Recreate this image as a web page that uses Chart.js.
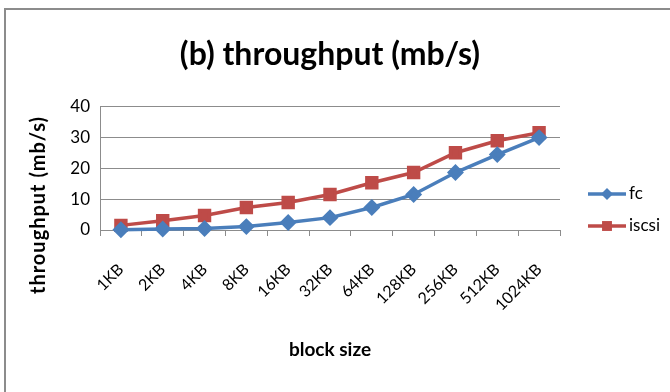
<!DOCTYPE html>
<html lang="en">
<head>
    <meta charset="UTF-8">
    <title>(b) throughput (mb/s)</title>
    <script src="https://cdn.jsdelivr.net/npm/chart.js"></script>
    <style>
        body { margin: 0; background: #fff; }
        #wrap { position: relative; width: 670px; height: 392px; overflow: hidden; }
        #frame { position: absolute; left: 4px; top: 8px; width: 700px; height: 420px; border: 2px solid #8c8c8c; }
        #chart { position: absolute; left: 0; top: 0; }
    </style>
</head>
<body>
    <div id="wrap">
        <div id="frame"></div>
        <canvas id="chart" width="670" height="392"></canvas>
    </div>
    <script>
        const blockSizes = ["1KB", "2KB", "4KB", "8KB", "16KB", "32KB", "64KB", "128KB", "256KB", "512KB", "1024KB"];
        const fcValues = [0.1, 0.3, 0.5, 1.1, 2.4, 4.0, 7.3, 11.5, 18.6, 24.4, 29.9];
        const iscsiValues = [1.5, 3.0, 4.7, 7.3, 8.9, 11.5, 15.3, 18.6, 25.0, 28.9, 31.5];
        const yTicks = [0, 10, 20, 30, 40];

        const font = "Lato, 'Open Sans', sans-serif";

        // legend drawn as line + marker like the original, plus the y title
        // which excel centres lower than chart.js would
        const sideLegend = {
            id: 'sideLegend',
            afterDraw(chart) {
                const ctx = chart.ctx;
                const rows = [194, 226];
                chart.data.datasets.forEach((ds, i) => {
                    const y = rows[i];
                    ctx.save();
                    ctx.strokeStyle = ds.borderColor;
                    ctx.lineWidth = ds.borderWidth;
                    ctx.beginPath();
                    ctx.moveTo(588, y);
                    ctx.lineTo(626, y);
                    ctx.stroke();
                    ctx.fillStyle = ds.pointBackgroundColor;
                    Chart.helpers.drawPoint(ctx, {
                        pointStyle: ds.pointStyle,
                        radius: ds.pointRadius,
                        borderWidth: 0
                    }, 607, y);
                    ctx.fillStyle = '#000';
                    ctx.font = "17px " + font;
                    ctx.textBaseline = 'middle';
                    ctx.fillText(ds.label, 629, y);
                    ctx.restore();
                });

                ctx.save();
                ctx.translate(39, 205);
                ctx.rotate(-Math.PI / 2);
                ctx.fillStyle = '#000';
                ctx.font = "bold 20px " + font;
                ctx.letterSpacing = '1px';
                ctx.textAlign = 'center';
                ctx.textBaseline = 'middle';
                ctx.fillText('throughput (mb/s)', 0, 0);
                ctx.restore();
            }
        };

        new Chart(document.getElementById('chart'), {
            type: 'line',
            data: {
                labels: blockSizes,
                datasets: [{
                    label: 'fc',
                    data: fcValues,
                    borderColor: '#4a7ebb',
                    pointBackgroundColor: '#4a7ebb',
                    pointBorderColor: '#4a7ebb',
                    borderWidth: 3.5,
                    pointStyle: 'rectRot',
                    pointRadius: 6,
                    tension: 0
                }, {
                    label: 'iscsi',
                    data: iscsiValues,
                    borderColor: '#be4b48',
                    pointBackgroundColor: '#be4b48',
                    pointBorderColor: '#be4b48',
                    borderWidth: 3.5,
                    pointStyle: 'rect',
                    pointRadius: 7,
                    tension: 0
                }]
            },
            options: {
                responsive: false,
                animation: false,
                clip: false,
                layout: { padding: { left: 28, right: 110, top: 35, bottom: 27 } },
                plugins: {
                    legend: { display: false },
                    tooltip: { enabled: false },
                    title: {
                        display: true,
                        fullSize: false,
                        text: '(b) throughput (mb/s)',
                        color: '#000',
                        font: { family: font, size: 32, weight: 'bold' },
                        padding: { top: 0, bottom: 33 }
                    }
                },
                scales: {
                    x: {
                        offset: true,
                        afterFit(scale) { scale.height = 135; },
                        grid: { drawOnChartArea: false, offset: true, tickLength: 6, color: '#8c8c8c' },
                        border: { color: '#8c8c8c' },
                        ticks: {
                            color: '#000',
                            padding: 24,
                            font: { family: font, size: 16 },
                            minRotation: 45,
                            maxRotation: 45,
                            autoSkip: false
                        },
                        title: {
                            display: true,
                            text: 'block size',
                            color: '#000',
                            font: { family: font, size: 19, weight: 'bold' }
                        }
                    },
                    y: {
                        min: 0,
                        max: 40,
                        afterBuildTicks(scale) {
                            scale.ticks = yTicks.map(v => ({ value: v }));
                        },
                        afterFit(scale) { scale.width = 72; },
                        grid: { color: '#8c8c8c', drawTicks: false },
                        border: { color: '#8c8c8c' },
                        ticks: {
                            color: '#000',
                            padding: 10,
                            font: { family: font, size: 17 }
                        },
                        title: { display: false }
                    }
                }
            },
            plugins: [sideLegend]
        });
    </script>
</body>
</html>
